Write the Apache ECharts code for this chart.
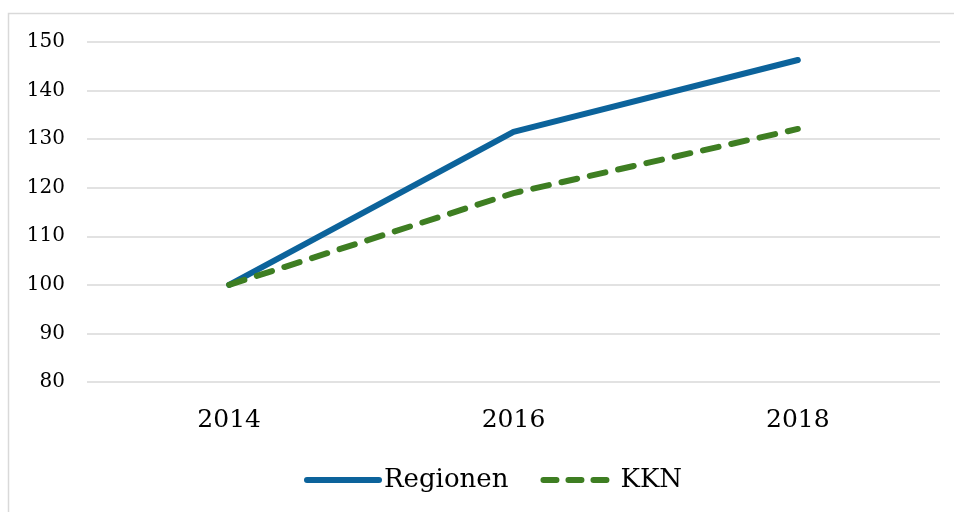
<!DOCTYPE html>
<html>
<head>
<meta charset="utf-8">
<script src="https://cdn.jsdelivr.net/npm/echarts@6/dist/echarts.min.js"></script>
<style>
  html, body { margin: 0; padding: 0; background: #fff; }
  #chart { width: 954px; height: 512px; }
</style>
</head>
<body>
<div id="chart"></div>
<script>
var years = ['2014', '2016', '2018'];
var regionen = [100, 131.5, 146.3];
var kkn = [100, 118.9, 132.1];

var font = 'DejaVu Serif';
var blue = '#0c639b';
var green = '#3e7e22';

var chart = echarts.init(document.getElementById('chart'));

chart.setOption({
    animation: false,
    graphic: [{
        type: 'rect',
        shape: { x: 8.5, y: 13.5, width: 980, height: 540 },
        style: { fill: 'none', stroke: '#d9d9d9', lineWidth: 1.5 },
        silent: true
    }],
    grid: { left: 87, right: 14, top: 42, bottom: 130 },
    legend: {
        bottom: 14,
        left: 299,
        itemWidth: 72,
        itemHeight: 14,
        itemGap: 32,
        itemStyle: { opacity: 0 },
        textStyle: { fontFamily: font, fontSize: 26, color: '#000' },
        data: [
            { name: 'Regionen', lineStyle: { width: 6, color: blue, cap: 'round' } },
            { name: 'KKN', lineStyle: { width: 6, color: green, type: [13, 12], cap: 'round' } }
        ]
    },
    xAxis: {
        type: 'category',
        data: years,
        boundaryGap: true,
        axisLine: { show: false },
        axisTick: { show: false },
        axisLabel: { fontFamily: font, fontSize: 25, color: '#000', margin: 26 }
    },
    yAxis: {
        type: 'value',
        min: 80,
        max: 150,
        interval: 10,
        axisLine: { show: false },
        axisTick: { show: false },
        axisLabel: { fontFamily: font, fontSize: 20, color: '#000', margin: 22 },
        splitLine: { lineStyle: { color: '#d9d9d9', width: 1.5 } }
    },
    series: [
        {
            name: 'Regionen',
            type: 'line',
            data: regionen,
            symbol: 'none',
            color: blue,
            lineStyle: { width: 6, color: blue, cap: 'round' }
        },
        {
            name: 'KKN',
            type: 'line',
            data: kkn,
            symbol: 'none',
            color: green,
            lineStyle: { width: 6, color: green, type: [16, 13], cap: 'round' }
        }
    ]
});
</script>
</body>
</html>
